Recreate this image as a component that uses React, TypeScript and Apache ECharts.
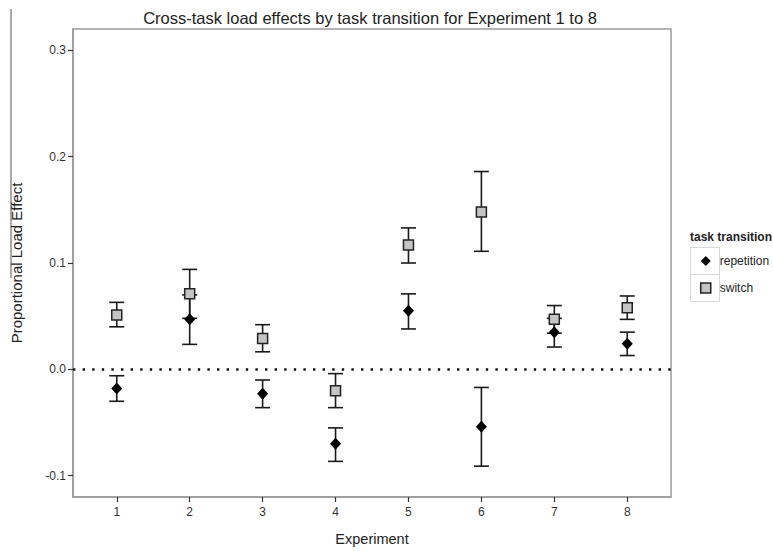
import React, { useEffect, useRef } from "react";
import * as echarts from "echarts";

const experiments = [1, 2, 3, 4, 5, 6, 7, 8];
const repMean = [-0.018, 0.047, -0.023, -0.07, 0.055, -0.054, 0.035, 0.024];
const repLow = [-0.03, 0.0235, -0.036, -0.0865, 0.038, -0.091, 0.021, 0.013];
const repHigh = [-0.006, 0.07, -0.01, -0.055, 0.071, -0.017, 0.048, 0.035];
const swMean = [0.051, 0.071, 0.029, -0.02, 0.117, 0.148, 0.047, 0.058];
const swLow = [0.04, 0.048, 0.0165, -0.036, 0.1, 0.111, 0.034, 0.047];
const swHigh = [0.063, 0.094, 0.042, -0.004, 0.133, 0.186, 0.06, 0.069];
const yTicks = [-0.1, 0, 0.1, 0.2, 0.3];

const FONT = "'Liberation Sans', Arial, sans-serif";

function errorSeries(name: string, low: number[], high: number[]) {
  return {
    type: "custom",
    name: name + " CI",
    z: 2,
    silent: true,
    data: experiments.map((x, i) => [x, low[i], high[i]]),
    renderItem: (params: any, api: any) => {
      const x = api.value(0);
      const lo = api.coord([x, api.value(1)]);
      const hi = api.coord([x, api.value(2)]);
      const hw = 7.5;
      const style = { stroke: "#1a1a1a", lineWidth: 1.6 };
      return {
        type: "group",
        children: [
          { type: "line", shape: { x1: lo[0], y1: lo[1], x2: hi[0], y2: hi[1] }, style },
          { type: "line", shape: { x1: lo[0] - hw, y1: lo[1], x2: lo[0] + hw, y2: lo[1] }, style },
          { type: "line", shape: { x1: hi[0] - hw, y1: hi[1], x2: hi[0] + hw, y2: hi[1] }, style },
        ],
      };
    },
  };
}

export default function App() {
  const ref = useRef<HTMLDivElement>(null);
  useEffect(() => {
    if (!ref.current) return;
    const chart = echarts.init(ref.current, undefined, { renderer: "svg" });
    chart.setOption({
      animation: false,
      backgroundColor: "#ffffff",
      textStyle: { fontFamily: FONT },
      title: [
        {
          text: "Cross-task load effects by task transition for Experiment 1 to 8",
          left: 370,
          textAlign: "center",
          top: 9,
          padding: 0,
          textStyle: { fontSize: 16.5, fontWeight: "normal", color: "#222", fontFamily: FONT },
        },
        {
          text: "task transition",
          left: 690,
          top: 231,
          padding: 0,
          textStyle: { fontSize: 12, fontWeight: "bold", color: "#222", fontFamily: FONT },
        },
      ],
      legend: {
        orient: "vertical",
        left: 700,
        top: 254,
        padding: 0,
        itemWidth: 10,
        itemHeight: 10,
        itemGap: 13,
        data: [
          { name: "repetition", icon: "diamond", itemStyle: { color: "#000", borderWidth: 0 } },
          { name: "switch", icon: "rect", itemStyle: { color: "#c4c4c4", borderColor: "#222", borderWidth: 1.5 } },
        ],
        textStyle: { fontSize: 12, color: "#222", lineHeight: 14, padding: [0, 0, 0, 4], fontFamily: FONT },
      },
      grid: {
        left: 73,
        top: 29,
        right: 102,
        bottom: 49,
        show: true,
        borderColor: "#9a9a9a",
        borderWidth: 1.5,
        backgroundColor: "transparent",
      },
      xAxis: {
        type: "value",
        min: 0.4,
        max: 8.6,
        name: "Experiment",
        nameLocation: "middle",
        nameGap: 34,
        nameTextStyle: { fontSize: 14.5, color: "#222", fontFamily: FONT },
        axisLine: { show: true, onZero: false, lineStyle: { color: "#9a9a9a", width: 1.5 } },
        axisTick: { show: true, length: 5, customValues: experiments, lineStyle: { color: "#333", width: 1.2 } },
        axisLabel: {
          customValues: experiments,
          fontSize: 12,
          color: "#333",
          margin: 9,
          formatter: (v: number) => String(v),
        },
        splitLine: { show: false },
      },
      yAxis: {
        type: "value",
        min: -0.12,
        max: 0.32,
        name: "Proportional Load Effect",
        nameLocation: "middle",
        nameGap: 49,
        nameTextStyle: { fontSize: 15, color: "#222", fontFamily: FONT },
        axisLine: { show: true, onZero: false, lineStyle: { color: "#9a9a9a", width: 1.5 } },
        axisTick: { show: true, length: 5, customValues: yTicks, lineStyle: { color: "#333", width: 1.2 } },
        axisLabel: {
          customValues: yTicks,
          fontSize: 12,
          color: "#333",
          margin: 7,
          formatter: (v: number) => v.toFixed(1),
        },
        splitLine: { show: false },
      },
      series: [
        errorSeries("switch", swLow, swHigh),
        errorSeries("repetition", repLow, repHigh),
        {
          type: "scatter",
          name: "switch",
          z: 3,
          symbol: "rect",
          symbolSize: 10,
          itemStyle: { color: "#c4c4c4", borderColor: "#222", borderWidth: 1.5, opacity: 1 },
          data: experiments.map((x, i) => [x, swMean[i]]),
          markLine: {
            silent: true,
            symbol: "none",
            label: { show: false },
            lineStyle: { color: "#111", width: 2.6, type: [2.4, 7.2] },
            data: [{ yAxis: 0 }],
          },
        },
        {
          type: "scatter",
          name: "repetition",
          z: 4,
          symbol: "diamond",
          symbolSize: [11, 12],
          itemStyle: { color: "#000", opacity: 1 },
          data: experiments.map((x, i) => [x, repMean[i]]),
        },
      ],
      graphic: [
        {
          type: "line",
          shape: { x1: 11, y1: 9, x2: 11, y2: 278 },
          style: { stroke: "#555", lineWidth: 1 },
        },
        {
          type: "rect",
          shape: { x: 690.5, y: 247.5, width: 29, height: 27 },
          style: { fill: "none", stroke: "#d8d8d8", lineWidth: 1 },
        },
        {
          type: "rect",
          shape: { x: 690.5, y: 274.5, width: 29, height: 27 },
          style: { fill: "none", stroke: "#d8d8d8", lineWidth: 1 },
        },
      ],
    });
    return () => chart.dispose();
  }, []);
  return (
    <div
      ref={ref}
      style={{ position: "fixed", left: 0, top: 0, width: 773, height: 551 }}
    />
  );
}
